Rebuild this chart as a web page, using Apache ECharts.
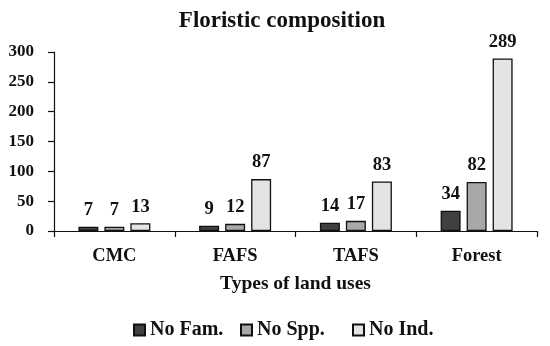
<!DOCTYPE html>
<html>
<head>
<meta charset="utf-8">
<script src="https://cdn.jsdelivr.net/npm/echarts@6/dist/echarts.min.js"></script>
<style>
html,body{margin:0;padding:0;background:#fff;}
#chart{width:550px;height:346px;}
</style>
</head>
<body>
<div id="chart"></div>
<script>
const categories = ['CMC', 'FAFS', 'TAFS', 'Forest'];
const noFam = [7, 9, 14, 34];
const noSpp = [7, 12, 17, 82];
const noInd = [13, 87, 83, 289];
const seriesNames = ['No Fam.', 'No Spp.', 'No Ind.'];
const yTicks = [0, 50, 100, 150, 200, 250, 300];

const FONT = '"Liberation Serif", "Times New Roman", serif';
const colors = ['#404040', '#a8a8a8', '#e4e4e4'];
const legendLefts = [133, 240, 352];
const chart = echarts.init(document.getElementById('chart'));

function mkSeries(name, data, color) {
  return {
    name: name,
    type: 'bar',
    data: data,
    barWidth: 20,
    barGap: '30%',
    itemStyle: { color: color, borderColor: '#111', borderWidth: 1.3 },
    label: {
      show: true, position: 'top', distance: 7,
      fontFamily: FONT, fontWeight: 'bold', fontSize: 18.5, color: '#111'
    }
  };
}

function mkLegend(i) {
  return {
    data: [seriesNames[i]],
    left: legendLefts[i], top: 320,
    padding: 0,
    itemWidth: 11, itemHeight: 11,
    icon: 'rect',
    textStyle: { fontFamily: FONT, fontWeight: 'bold', fontSize: 20, color: '#111' }
  };
}

chart.setOption({
  animation: false,
  backgroundColor: '#fff',
  title: {
    text: 'Floristic composition',
    left: 277, textAlign: 'center', top: 5,
    textStyle: { fontFamily: FONT, fontWeight: 'bold', fontSize: 23, color: '#111' }
  },
  legend: [mkLegend(0), mkLegend(1), mkLegend(2)],
  grid: { left: 54, right: 13, top: 52, bottom: 115, containLabel: false },
  xAxis: {
    type: 'category',
    data: categories,
    name: 'Types of land uses',
    nameLocation: 'middle',
    nameGap: 43,
    nameTextStyle: { fontFamily: FONT, fontWeight: 'bold', fontSize: 19.5, color: '#111' },
    axisLine: { lineStyle: { color: '#111', width: 1.2 } },
    axisTick: { show: true, length: 6, lineStyle: { color: '#111', width: 1.2 } },
    axisLabel: { margin: 16, fontFamily: FONT, fontWeight: 'bold', fontSize: 18.5, color: '#111' }
  },
  yAxis: {
    type: 'value',
    min: yTicks[0], max: yTicks[yTicks.length - 1], interval: 50,
    axisLine: { show: true, lineStyle: { color: '#111', width: 1.2 } },
    axisTick: { show: true, length: 6, lineStyle: { color: '#111', width: 1.2 } },
    splitLine: { show: false },
    axisLabel: { margin: 20, fontFamily: FONT, fontWeight: 'bold', fontSize: 17, color: '#111' }
  },
  series: [
    mkSeries(seriesNames[0], noFam, colors[0]),
    mkSeries(seriesNames[1], noSpp, colors[1]),
    mkSeries(seriesNames[2], noInd, colors[2])
  ]
});
</script>
</body>
</html>
